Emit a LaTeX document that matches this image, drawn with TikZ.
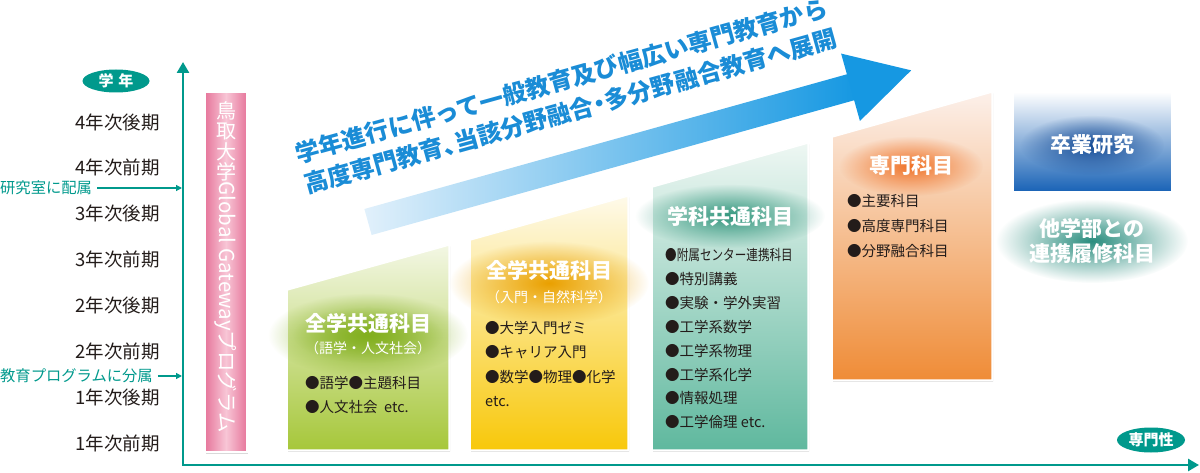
\documentclass[tikz,border=0pt]{standalone}
\usepackage{fontspec}
\setmainfont{Noto Sans CJK JP}
\usepackage{tikz}
\usetikzlibrary{arrows.meta,%
                fadings,%
                shadows,%
                shapes.geometric}

\definecolor{axisteal}{RGB}{0,153,140}
\definecolor{inkdark}{RGB}{35,28,26}
\definecolor{barpink}{RGB}{230,118,155}
\definecolor{barpinklight}{RGB}{248,198,214}
\definecolor{leafgreen}{RGB}{166,199,58}
\definecolor{leafgreenlight}{RGB}{243,247,228}
\definecolor{leafglow}{RGB}{130,175,30}
\definecolor{sunyellow}{RGB}{248,200,10}
\definecolor{sunyellowlight}{RGB}{254,250,234}
\definecolor{sunglow}{RGB}{234,160,0}
\definecolor{mint}{RGB}{95,184,158}
\definecolor{mintlight}{RGB}{238,247,243}
\definecolor{mintglow}{RGB}{50,150,125}
\definecolor{peach}{RGB}{239,140,55}
\definecolor{peachlight}{RGB}{252,240,234}
\definecolor{peachglow}{RGB}{240,115,40}
\definecolor{deepblue}{RGB}{24,98,182}
\definecolor{midblue}{RGB}{150,190,230}
\definecolor{blueglow}{RGB}{22,76,150}
\definecolor{flowblue}{RGB}{22,152,226}
\definecolor{flowbluepale}{RGB}{225,240,251}
\definecolor{flowtext}{RGB}{26,140,214}
\definecolor{tealglow}{RGB}{40,140,125}

\tikzfading[name=softglow,inner color=transparent!0,outer color=transparent!100]

\begin{document}
\begin{tikzpicture}[x=1pt,y=-1pt,
		axisline/.style={draw=axisteal,line width=2.6pt,line join=miter},
		tagoval/.style={ellipse,fill=axisteal,text=white,inner sep=0pt,font=\fontsize{15}{15}\selectfont\bfseries},
		yearlabel/.style={anchor=east,inner sep=0pt,text=inkdark,font=\fontsize{18.5}{18.5}\selectfont},
		notelabel/.style={anchor=west,inner sep=0pt,text=axisteal,font=\fontsize{15.3}{15.3}\selectfont},
		notearrow/.style={draw=axisteal,line width=1.2pt,shorten <=5pt,-{Triangle[length=6pt,width=6pt]}},
		subjectbox/.style={draw=white,line width=1.5pt,drop shadow={shadow xshift=1.2pt,shadow yshift=-1.5pt,opacity=0.3}},
		boxtitle/.style={inner sep=0pt,text=white,font=\fontsize{21}{21}\selectfont\bfseries},
		boxsub/.style={inner sep=0pt,text=white,font=\fontsize{14}{14}\selectfont},
		bulletitem/.style={anchor=west,inner sep=0pt,text=inkdark,font=\fontsize{14.5}{14.5}\selectfont}]
		\useasboundingbox (0,0) rectangle (1200,473);
		% axes
		\coordinate (origin) at (183,465);
		\coordinate (yTop) at (183,62);
		\coordinate (xEnd) at (1199,465);
		\draw[axisline,{Triangle[length=11pt,width=12pt]}-{Triangle[length=11pt,width=12pt]}] (yTop) -- (origin) -- (xEnd);
		\node[tagoval,minimum width=67pt,minimum height=23pt] (yearTag) at (116,81) {学\hspace{5pt}年};
		\node[tagoval,minimum width=68pt,minimum height=25pt] (specTag) at (1151,440) {専門性};
		\foreach \lbl [count=\i] in {4年次後期,4年次前期,3年次後期,3年次前期,2年次後期,2年次前期,1年次後期,1年次前期}
			\node[yearlabel] (term\i) at (160,{122+45.9*(\i-1)}) {\lbl};
		\node[notelabel] (labAssign) at (0,188) {研究室に配属};
		\coordinate (labHit) at (182,188);
		\draw[notearrow] (labAssign) -- (labHit);
		\node[notelabel] (progAssign) at (0,376) {教育プログラムに分属};
		\coordinate (progHit) at (182,376);
		\draw[notearrow] (progAssign) -- (progHit);
		% big arrow
		\begin{scope}[shift={(368,222)},rotate=15.6]
			\shade[left color=flowbluepale,right color=flowblue] (0,-13.5) -- (502,-13.5) -- (502,13.5) -- (0,13.5) -- cycle;
			\fill[flowblue] (501,-35) -- (564,0) -- (501,35) -- cycle;
		\end{scope}
		\node[rotate=15.5,align=left,inner sep=0pt,text=flowtext,font=\fontsize{24}{32}\selectfont\bfseries] (flowCaption) at (566,96) {学年進行に伴って一般教育及び幅広い専門教育から\\{\addfontfeature{RawFeature=+palt}高度専門教育、当該分野融合・多分野融合教育へ展開}};
		% program bar
		{
			\tikzset{barstyle/.style={subjectbox,minimum width=42pt,minimum height=360pt,inner sep=0pt,left color=barpink,right color=barpink,middle color=barpinklight}}
			\node[barstyle] (ggpBar) at (226,272) {};
		}
		\node[anchor=north,inner sep=0pt,align=center,text=white,font=\fontsize{20}{20.5}\selectfont] (ggpKanji) at (226,101) {鳥\\取\\大\\学};
		\node[anchor=west,rotate=-90,inner sep=0pt,text=white,font=\fontsize{20.5}{20.5}\selectfont] (ggpLatin) at (ggpKanji.south) {Global Gatewayプログラム};
		% general subjects (1)
		\shade[subjectbox,top color=leafgreenlight,bottom color=leafgreen] (287,290) -- (449,245) -- (449,450) -- (287,450) -- cycle;
		\fill[leafglow,path fading=softglow] (368,335) ellipse [x radius=100,y radius=42];
		\fill[leafglow,opacity=0.6,path fading=softglow] (368,335) ellipse [x radius=75,y radius=28];
		\node[boxtitle] (genTitleA) at (368,323) {全学共通科目};
		\node[boxsub] (genSubA) at (368,348) {（語学・人文社会）};
		\foreach \txt [count=\k] in {●語学●主題科目,●人文社会\ \ etc.}
			\node[bulletitem] (genItemA\k) at (305,{383+24.5*(\k-1)}) {\txt};
		% general subjects (2)
		\shade[subjectbox,top color=sunyellowlight,bottom color=sunyellow] (470,240) -- (628,196) -- (628,450) -- (470,450) -- cycle;
		\fill[sunglow,path fading=softglow] (549,283) ellipse [x radius=100,y radius=42];
		\node[boxtitle] (genTitleB) at (549,270) {全学共通科目};
		\node[boxsub] (genSubB) at (549,297) {（入門・自然科学）};
		\foreach \txt [count=\k] in {●大学入門ゼミ,●キャリア入門,●数学●物理●化学,etc.}
			\node[bulletitem] (genItemB\k) at (485,{328+24.6*(\k-1)}) {\txt};
		% department subjects
		\shade[subjectbox,top color=mintlight,bottom color=mint] (652,187) -- (808,143) -- (808,450) -- (652,450) -- cycle;
		\fill[mintglow,path fading=softglow] (730,216) ellipse [x radius=95,y radius=32];
		\node[boxtitle] (deptTitle) at (730,216) {学科共通科目};
		\foreach \txt [count=\k] in {{\scalebox{0.8}[1]{●附属センター連携科目}},●特別講義,●実験・学外実習,●工学系数学,●工学系物理,●工学系化学,●情報処理,●工学倫理 etc.}
			\node[bulletitem] (deptItem\k) at (665,{255+23.9*(\k-1)}) {\txt};
		% major subjects
		\shade[subjectbox,top color=peachlight,bottom color=peach] (832,137) -- (992,92) -- (992,380) -- (832,380) -- cycle;
		\fill[peachglow,path fading=softglow] (911,166) ellipse [x radius=72,y radius=30];
		\node[boxtitle] (majorTitle) at (911,166) {専門科目};
		\foreach \txt [count=\k] in {●主要科目,●高度専門科目,●分野融合科目}
			\node[bulletitem] (majorItem\k) at (847,{201+25*(\k-1)}) {\txt};
		% graduation research
		\shade[subjectbox,top color=white,middle color=midblue,bottom color=deepblue] (1013,92) rectangle (1172,192);
		\fill[blueglow,path fading=softglow] (1092,145) ellipse [x radius=72,y radius=30];
		\node[boxtitle] (thesisTitle) at (1092,145) {卒業研究};
		% joint courses
		\fill[tealglow,path fading=softglow] (1092,241) ellipse [x radius=96,y radius=42];
		\node[boxtitle,align=center,font=\fontsize{21}{25}\selectfont\bfseries] (jointCourses) at (1092,241) {他学部との\\連携履修科目};
\end{tikzpicture}
\end{document}
